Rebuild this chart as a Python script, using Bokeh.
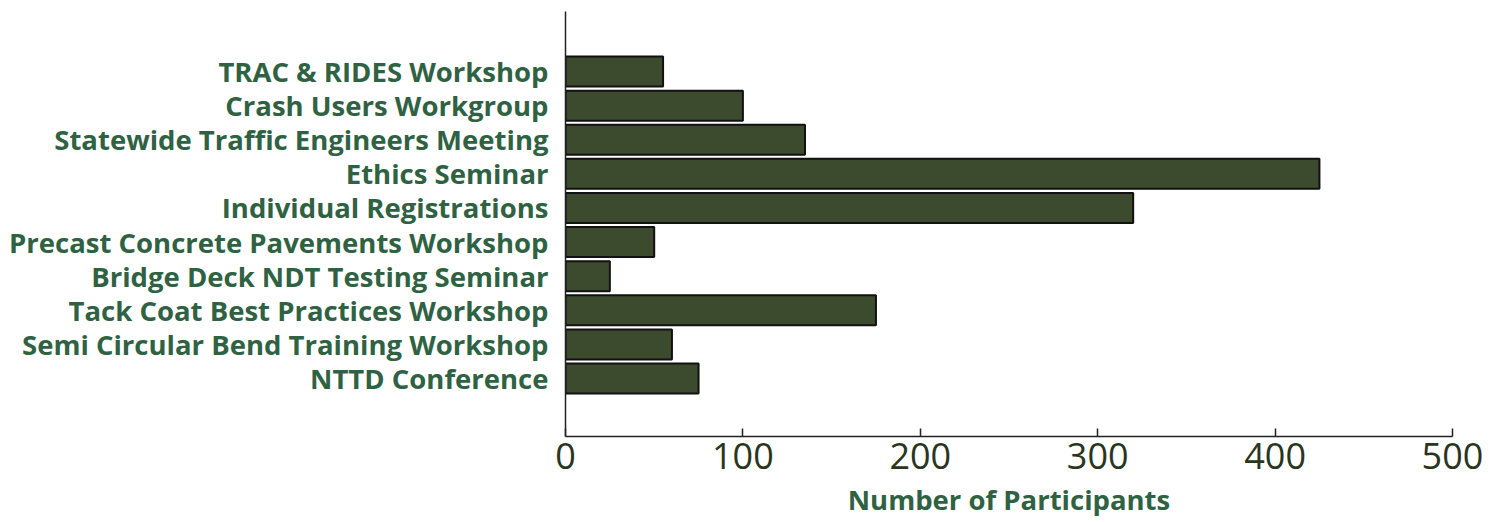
from bokeh.plotting import figure
from bokeh.models import ColumnDataSource, FixedTicker, Range1d
from bokeh.embed import file_html
from bokeh.resources import INLINE

events = [
    "TRAC & RIDES Workshop",
    "Crash Users Workgroup",
    "Statewide Traffic Engineers Meeting",
    "Ethics Seminar",
    "Individual Registrations",
    "Precast Concrete Pavements Workshop",
    "Bridge Deck NDT Testing Seminar",
    "Tack Coat Best Practices Workshop",
    "Semi Circular Bend Training Workshop",
    "NTTD Conference",
]
participants = [55, 100, 135, 425, 320, 50, 25, 175, 60, 75]
x_ticks = [0, 100, 200, 300, 400, 500]

n = len(events)
ypos = [n - 1 - i for i in range(n)]
src = ColumnDataSource(dict(y=ypos, x=participants, name=events))

p = figure(width=1490, height=520, output_backend="svg", toolbar_location=None,
           x_range=Range1d(0, 500), y_range=Range1d(-1.7, n - 1 + 1.76),
           min_border_left=565, min_border_top=11, min_border_right=38, min_border_bottom=80)
p.hbar(y="y", right="x", left=0, height=0.88, source=src,
       fill_color="#3c4a2e", line_color="#111111", line_width=2)

p.outline_line_color = None
p.grid.grid_line_color = None

xa = p.xaxis[0]
xa.ticker = FixedTicker(ticks=x_ticks)
xa.minor_tick_line_color = None
xa.major_tick_in = 8
xa.major_tick_out = 0
xa.major_tick_line_color = "#222222"
xa.major_tick_line_width = 1.5
xa.axis_line_color = "#222222"
xa.axis_line_width = 1.5
xa.major_label_text_font = "Open Sans"
xa.major_label_text_font_size = "36px"
xa.major_label_text_color = "#2a3520"
xa.major_label_standoff = 6
xa.axis_label = "Number of Participants"
xa.axis_label_text_font = "Open Sans"
xa.axis_label_text_font_style = "bold"
xa.axis_label_text_font_size = "27.5px"
xa.axis_label_text_color = "#2f6242"
xa.axis_label_standoff = 9

ya = p.yaxis[0]
ya.ticker = FixedTicker(ticks=ypos)
ya.major_label_overrides = {yy: e for yy, e in zip(ypos, events)}
ya.major_tick_line_color = None
ya.minor_tick_line_color = None
ya.axis_line_color = "#222222"
ya.axis_line_width = 1.5
ya.major_label_text_font = "Open Sans"
ya.major_label_text_font_style = "bold"
ya.major_label_text_font_size = "27.5px"
ya.major_label_text_color = "#2f6242"
ya.major_label_standoff = 11

open("out.html", "w").write(file_html(p, INLINE))
